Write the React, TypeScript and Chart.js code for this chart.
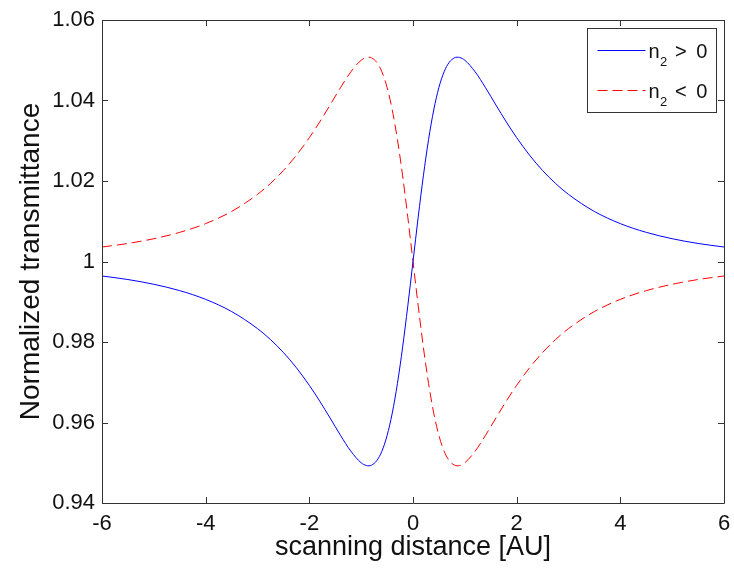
import React, { useEffect, useRef } from 'react';
import { Chart, registerables } from 'chart.js';

Chart.register(...registerables);

// scanning distance [AU]
const xValues = [
  -6, -5.5, -5, -4.5, -4, -3.5, -3, -2.75, -2.5, -2.25, -2, -1.8, -1.6, -1.4, -1.2, -1,
  -0.9, -0.85, -0.8, -0.7, -0.6, -0.5, -0.4, -0.3, -0.2, -0.1, 0,
  0.1, 0.2, 0.3, 0.4, 0.5, 0.6, 0.7, 0.8, 0.85, 0.9,
  1, 1.2, 1.4, 1.6, 1.8, 2, 2.25, 2.5, 2.75, 3, 3.5, 4, 4.5, 5, 5.5, 6,
];

// n2 > 0 (blue, solid)
const positiveN2 = [
  0.9964, 0.99552, 0.99434, 0.99276, 0.99059, 0.98757, 0.98333, 0.98061, 0.97739, 0.97361,
  0.96923, 0.96532, 0.96112, 0.95684, 0.95289, 0.95,
  0.94931, 0.94924, 0.9494, 0.9505, 0.95287, 0.95676, 0.96235, 0.96972, 0.97873, 0.98901, 1,
  1.01099, 1.02127, 1.03028, 1.03765, 1.04324, 1.04713, 1.0495, 1.0506, 1.05076, 1.05069,
  1.05, 1.04711, 1.04316, 1.03888, 1.03468, 1.03077, 1.02639, 1.02261, 1.01939, 1.01667,
  1.01243, 1.00941, 1.00724, 1.00566, 1.00448, 1.0036,
];

// n2 < 0 (red, dashed)
const negativeN2 = [
  1.0036, 1.00448, 1.00566, 1.00724, 1.00941, 1.01243, 1.01667, 1.01939, 1.02261, 1.02639,
  1.03077, 1.03468, 1.03888, 1.04316, 1.04711, 1.05,
  1.05069, 1.05076, 1.0506, 1.0495, 1.04713, 1.04324, 1.03765, 1.03028, 1.02127, 1.01099, 1,
  0.98901, 0.97873, 0.96972, 0.96235, 0.95676, 0.95287, 0.9505, 0.9494, 0.94924, 0.94931,
  0.95, 0.95289, 0.95684, 0.96112, 0.96532, 0.96923, 0.97361, 0.97739, 0.98061, 0.98333,
  0.98757, 0.99059, 0.99276, 0.99434, 0.99552, 0.9964,
];

const xTickValues = [-6, -4, -2, 0, 2, 4, 6];
const xTickLabels = ['-6', '-4', '-2', '0', '2', '4', '6'];
const yTickValues = [0.94, 0.96, 0.98, 1, 1.02, 1.04, 1.06];
const yTickLabels = ['0.94', '0.96', '0.98', '1', '1.02', '1.04', '1.06'];

// legend: base, subscript, relation
const legendParts = [
  ['n', '2', ' > 0'],
  ['n', '2', ' < 0'],
];

const xTitle = 'scanning distance [AU]';
const yTitle = 'Normalized transmittance';

const FONT = "'Liberation Sans', Arial, Helvetica, sans-serif";

const axesBoxPlugin = {
  id: 'axesBox',
  afterDraw(chart: any) {
    const { ctx, chartArea: a, scales } = chart;
    const tl = 6;
    ctx.save();
    ctx.strokeStyle = '#333333';
    ctx.lineWidth = 1;
    ctx.beginPath();
    ctx.rect(Math.round(a.left) + 0.5, Math.round(a.top) + 0.5, Math.round(a.right - a.left), Math.round(a.bottom - a.top));
    ctx.stroke();
    ctx.beginPath();
    xTickValues.forEach((v) => {
      const x = Math.round(scales.x.getPixelForValue(v)) + 0.5;
      ctx.moveTo(x, a.bottom);
      ctx.lineTo(x, a.bottom - tl);
      ctx.moveTo(x, a.top);
      ctx.lineTo(x, a.top + tl);
    });
    yTickValues.forEach((v) => {
      const y = Math.round(scales.y.getPixelForValue(v)) + 0.5;
      ctx.moveTo(a.left, y);
      ctx.lineTo(a.left + tl, y);
      ctx.moveTo(a.right, y);
      ctx.lineTo(a.right - tl, y);
    });
    ctx.stroke();

    // legend
    const w = 129;
    const h = 84;
    const lx = Math.round(a.right - 8 - w) + 0.5;
    const ly = Math.round(a.top + 8) + 0.5;
    ctx.fillStyle = '#ffffff';
    ctx.fillRect(lx, ly, w, h);
    ctx.strokeStyle = '#333333';
    ctx.strokeRect(lx, ly, w, h);
    chart.data.datasets.forEach((ds: any, i: number) => {
      const ry = Math.round(ly + 21 + i * 40);
      ctx.save();
      ctx.strokeStyle = ds.borderColor;
      ctx.lineWidth = 1;
      ctx.setLineDash(ds.borderDash || []);
      ctx.beginPath();
      ctx.moveTo(lx + 10, ry + 0.5);
      ctx.lineTo(lx + 58, ry + 0.5);
      ctx.stroke();
      ctx.restore();
      const parts = legendParts[i];
      ctx.fillStyle = '#111111';
      ctx.textBaseline = 'alphabetic';
      ctx.textAlign = 'left';
      let tx = lx + 61;
      ctx.font = `20px ${FONT}`;
      ctx.fillText(parts[0], tx, ry + 8);
      tx += ctx.measureText(parts[0]).width + 0.5;
      ctx.font = `13px ${FONT}`;
      ctx.fillText(parts[1], tx, ry + 16);
      tx += ctx.measureText(parts[1]).width;
      ctx.font = `20px ${FONT}`;
      (ctx as any).letterSpacing = '2px';
      ctx.fillText(parts[2], tx, ry + 8);
      (ctx as any).letterSpacing = '0px';
    });
    ctx.restore();
  },
};

export default function App() {
  const ref = useRef<HTMLCanvasElement | null>(null);

  useEffect(() => {
    if (!ref.current) return;
    const chart = new Chart(ref.current, {
      type: 'line',
      data: {
        datasets: [
          {
            label: 'n2 > 0',
            data: xValues.map((x, i) => ({ x, y: positiveN2[i] })),
            borderColor: '#0000ff',
            borderWidth: 1,
            pointRadius: 0,
            cubicInterpolationMode: 'monotone',
            fill: false,
          },
          {
            label: 'n2 < 0',
            data: xValues.map((x, i) => ({ x, y: negativeN2[i] })),
            borderColor: '#ff0000',
            borderWidth: 1,
            borderDash: [10, 5],
            pointRadius: 0,
            cubicInterpolationMode: 'monotone',
            fill: false,
          },
        ],
      },
      options: {
        responsive: false,
        animation: false,
        layout: { padding: { left: 0, right: 10, top: 20, bottom: 0 } },
        plugins: {
          legend: { display: false },
          tooltip: { enabled: false },
        },
        scales: {
          x: {
            type: 'linear',
            min: -6,
            max: 6,
            afterBuildTicks: (s: any) => {
              s.ticks = xTickValues.map((v) => ({ value: v }));
            },
            afterFit: (s: any) => {
              s.height = 67;
              s.paddingLeft = 0;
              s.paddingRight = 0;
            },
            grid: { display: false, drawTicks: false },
            border: { display: false },
            ticks: {
              autoSkip: false,
              maxRotation: 0,
              padding: 8,
              color: '#111111',
              font: { family: FONT, size: 22 },
              callback: (v: any) => xTickLabels[xTickValues.indexOf(Number(v))] ?? '',
            },
            title: {
              display: true,
              text: xTitle,
              color: '#111111',
              font: { family: FONT, size: 27 },
              padding: { top: 0, bottom: 6 },
            },
          },
          y: {
            type: 'linear',
            min: 0.94,
            max: 1.06,
            afterBuildTicks: (s: any) => {
              s.ticks = yTickValues.map((v) => ({ value: v }));
            },
            afterFit: (s: any) => {
              s.width = 102;
              s.paddingTop = 0;
              s.paddingBottom = 0;
            },
            grid: { display: false, drawTicks: false },
            border: { display: false },
            ticks: {
              autoSkip: false,
              padding: 7,
              color: '#111111',
              font: { family: FONT, size: 22 },
              callback: (v: any) => {
                const idx = yTickValues.findIndex((t) => Math.abs(t - Number(v)) < 1e-9);
                return idx >= 0 ? yTickLabels[idx] : '';
              },
            },
            title: {
              display: true,
              text: yTitle,
              color: '#111111',
              font: { family: FONT, size: 28 },
              padding: { top: 14, bottom: 0 },
            },
          },
        },
      },
      plugins: [axesBoxPlugin],
    } as any);
    return () => chart.destroy();
  }, []);

  return (
    <div style={{ position: 'absolute', left: 0, top: 0, width: 734, height: 570, background: '#ffffff' }}>
      <canvas ref={ref} width={734} height={570} style={{ display: 'block' }} />
    </div>
  );
}
